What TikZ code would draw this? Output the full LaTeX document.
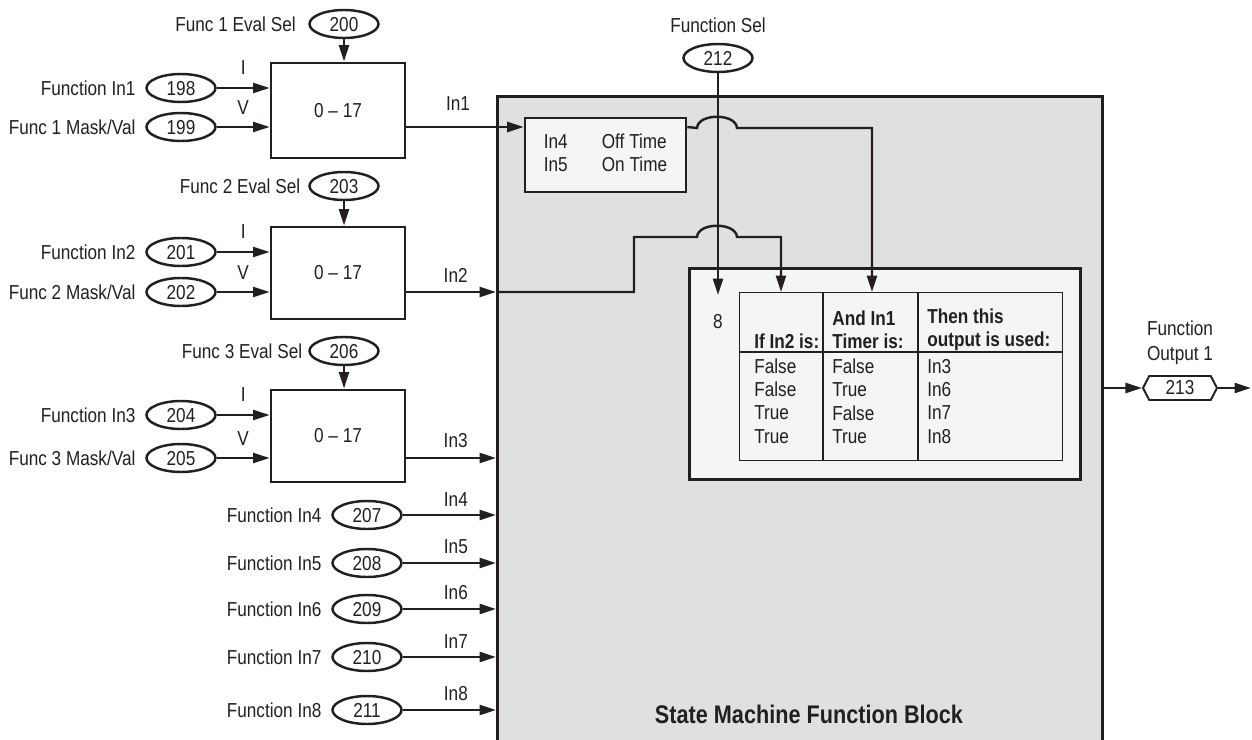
\documentclass[tikz,border=0pt]{standalone}
\usepackage{fontspec}
\setmainfont{Liberation Sans}[FakeStretch=0.85]
\usetikzlibrary{arrows.meta, positioning, shapes.geometric, shapes.symbols, calc}
\definecolor{ink}{HTML}{231F20}
\definecolor{blockgray}{HTML}{DFE0E2}
\definecolor{panel}{HTML}{F5F5F5}
\newcommand{\dgfont}{\fontsize{11.5}{13.2}\selectfont}
\tikzset{
  par/.style={ellipse, draw=ink, line width=1.4pt, minimum width=1.38cm, minimum height=0.56cm,
              inner sep=0pt, font=\dgfont, text=ink, text depth=-1.5pt},
  outpar/.style={signal, signal to=east and west, signal pointer angle=125, draw=ink, line width=1.1pt,
                 minimum width=1.48cm, minimum height=0.48cm, inner sep=0pt, font=\dgfont, text=ink},
  lbl/.style={inner sep=1pt, font=\dgfont, text=ink},
  cell/.style={anchor=west, inner sep=0pt, font=\dgfont, text=ink, align=left},
  evalbox/.style={draw=ink, fill=white, line width=1.6pt, minimum width=2.68cm, font=\dgfont, text=ink},
  pbox/.style={draw=ink, fill=panel, line width=1.5pt},
  fl/.style={-{Triangle[length=3.3mm, width=2mm]}, line width=1.4pt, draw=ink},
  wire/.style={line width=1.4pt, draw=ink},
}

\begin{document}
\begin{tikzpicture}[x=0.02cm, y=-0.02cm]
  \useasboundingbox (0,0) rectangle (1252,740);

  % state machine block
  \node[fill=blockgray, draw=ink, line width=1.8pt, minimum width=12.1cm, minimum height=13.1cm,
        anchor=north west] (sm) at (496,95) {};
  \node[lbl, font=\fontsize{14.5}{17}\selectfont\bfseries] (smtitle) at (809,714) {State Machine Function Block};

  % three evaluation blocks
  \foreach \k/\ysel/\ytop/\ybot/\yi/\yv/\ni/\nv/\nsel/\sgap in
     {1/24/63/158/88/127/198/199/200/2.1mm, 2/186/227/319/252/292/201/202/203/1.2mm, 3/351/390/482/415/458/204/205/206/0.8mm} {
    \node[evalbox, minimum height={(\ybot-\ytop)*0.02cm}] (b\k) at (338,{(\ytop+\ybot)/2}) {0 -- 17};
    \node[par] (esel\k) at (344,\ysel) {\nsel};
    \node[lbl, left=\sgap of esel\k] (lsel\k) {Func \k\ Eval Sel};
    \node[par] (ein\k) at (181,\yi) {\ni};
    \node[lbl, left=1.55mm of ein\k] (lin\k) {Function In\k};
    \node[par] (eval\k) at (181,\yv) {\nv};
    \node[lbl, left=1.55mm of eval\k] (lval\k) {Func \k\ Mask/Val};
    \draw[fl] (esel\k.south) -- (esel\k.south |- b\k.north);
    \draw[fl] (ein\k) -- (ein\k -| b\k.west) node[lbl, midway, above=0.22cm] {I};
    \draw[fl] (eval\k) -- (eval\k -| b\k.west) node[lbl, midway, above=0.2cm] {V};
  }

  % timer box
  \node[pbox, minimum width=3.22cm, minimum height=1.48cm, font=\dgfont, text=ink, inner sep=0pt] (timer) at (605.5,155)
    {\begin{tabular}{@{}p{1.16cm}@{}l@{}}In4 & Off Time\\ In5 & On Time\end{tabular}};

  % outputs of the evaluation blocks
  \draw[fl] (eval1 -| b1.east) -- (eval1 -| timer.west) node[lbl, pos=0.44, above=0.28cm] {In1};
  \draw[fl] (eval2 -| b2.east) -- (eval2 -| sm.west) node[lbl, pos=0.55, above=0.14cm] {In2};
  \draw[fl] (eval3 -| b3.east) -- (eval3 -| sm.west) node[lbl, pos=0.55, above=0.14cm] {In3};

  % direct inputs In4..In8
  \foreach \k/\y/\n in {4/515/207, 5/563/208, 6/609/209, 7/657/210, 8/710/211} {
    \node[par] (edir\k) at (367,\y) {\n};
    \node[lbl, left=1.55mm of edir\k] (ldir\k) {Function In\k};
    \draw[fl] (edir\k) -- (edir\k -| sm.west) node[lbl, pos=0.57, above=0.12cm] {In\k};
  }

  % selection table
  \node[pbox, minimum width=7.82cm, minimum height=4.22cm, anchor=north west] (selbox) at (688,267) {};
  \node[draw=ink, fill=panel, line width=0.7pt, minimum width=6.46cm, minimum height=3.36cm,
        anchor=north west, inner sep=0pt] (tbl) at (739,292) {};
  \draw[ink, line width=0.7pt] (823,292) -- (823,460) (918,292) -- (918,460) (739,352) -- (1062,352);
  \node[lbl] (eight) at (718,322) {8};
  \node[cell, font=\dgfont\bfseries] (h1) at (754,341) {If In2 is:};
  \node[cell, font=\dgfont\bfseries] (h2) at (832,329.5) {And In1\\Timer is:};
  \node[cell, font=\dgfont\bfseries] (h3) at (927,329.5) {Then this\\output is used:};
  \foreach \a/\b/\c [count=\i] in {False/False/In3, False/True/In6, True/False/In7, True/True/In8} {
    \node[cell] (c1r\i) at (754,{343+23.3*\i}) {\a};
    \node[cell] (c2r\i) at (832,{343+23.3*\i}) {\b};
    \node[cell] (c3r\i) at (927,{343+23.3*\i}) {\c};
  }

  % function select
  \node[par] (esel) at (718,58) {212};
  \node[lbl, above=1.55mm of esel] (lsel) {Function Sel};
  \coordinate (selin) at (718,295);
  \draw[fl] (esel.south) -- (selin);

  % In1 timer and In2 into the table, hopping over the select line
  \coordinate (t1) at (872,292);
  \coordinate (t2) at (781,292);
  \draw[fl] (eval1 -| timer.east) -- (697,128) .. controls (698,113) and (736,113) .. (737,128) -- (872,128) -- (t1);
  \draw[fl] (eval2 -| sm.west) -- (634,292) -- (634,237) -- (697,237) .. controls (698,222) and (736,222) .. (737,237)
        -- (781,237) -- (t2);

  % function output
  \node[outpar] (eout) at (1180,388) {213};
  \node[lbl, align=center, font=\fontsize{11.5}{14.2}\selectfont, above=1.6mm of eout] (lout) {Function\\Output 1};
  \coordinate (outend) at (1251,388);
  \draw[fl] (eout -| sm.east) -- (eout.west);
  \draw[fl] (eout.east) -- (outend);
\end{tikzpicture}
\end{document}
